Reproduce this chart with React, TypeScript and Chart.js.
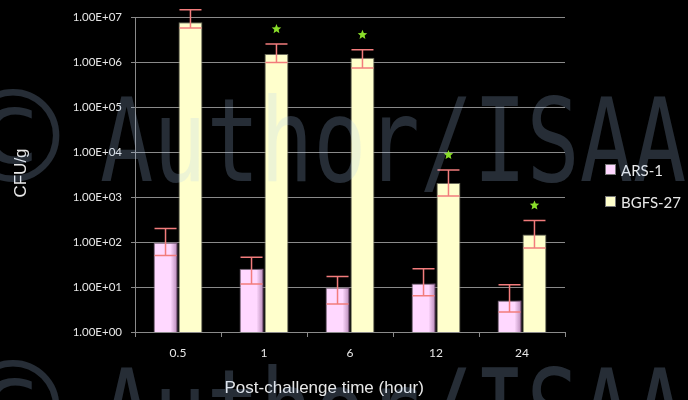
import React, { useEffect, useRef } from "react";
import { Chart, registerables } from "chart.js";

Chart.register(...registerables);

// Post-challenge time points (hours)
const categories = ["0.5", "1", "6", "12", "24"];

// ARS-1 counts (CFU/g) with error bar ends
const ars1Values = [98, 25.5, 9.8, 12, 5.0];
const ars1Upper = [200, 46, 17.2, 25.5, 11.2];
const ars1Lower = [50, 11.7, 4.2, 6.4, 2.8];

// BGFS-27 counts (CFU/g) with error bar ends
const bgfsValues = [7.6e6, 1.5e6, 1.25e6, 2.05e3, 146];
const bgfsUpper = [1.45e7, 2.5e6, 1.86e6, 4.0e3, 302];
const bgfsLower = [5.7e6, 9.8e5, 7.4e5, 1.05e3, 73.6];
const bgfsSignificant = [false, true, true, true, true];

// Decade ticks on the log axis
const yTickValues = [1, 10, 100, 1e3, 1e4, 1e5, 1e6, 1e7];

const seriesNames = ["ARS-1", "BGFS-27"];
const seriesColors = ["#ffd8ff", "#ffffcc"];

const formatSci = (v: number) => {
  const e = Math.round(Math.log10(v));
  return "1.00E+" + String(e).padStart(2, "0");
};

const TICK_FONT = "Lato, 'Noto Sans', sans-serif";
const TITLE_FONT = "'Liberation Sans', Arial, sans-serif";

function drawStar(ctx: CanvasRenderingContext2D, cx: number, cy: number, r: number) {
  ctx.beginPath();
  for (let i = 0; i < 10; i++) {
    const rad = i % 2 === 0 ? r : r * 0.45;
    const a = -Math.PI / 2 + (i * Math.PI) / 5;
    const x = cx + rad * Math.cos(a);
    const y = cy + rad * Math.sin(a);
    if (i === 0) ctx.moveTo(x, y);
    else ctx.lineTo(x, y);
  }
  ctx.closePath();
  ctx.fill();
}

const overlayPlugin = {
  id: "overlay",
  afterDatasetsDraw(chart: any) {
    const ctx = chart.ctx as CanvasRenderingContext2D;
    const yScale = chart.scales.y;
    const uppers = [ars1Upper, bgfsUpper];
    const lowers = [ars1Lower, bgfsLower];
    ctx.save();
    // soft shading on the right edge of the ARS-1 bars
    const m0 = chart.getDatasetMeta(0);
    m0.data.forEach((el: any) => {
      const p = el.getProps(["x", "y", "base", "width"], true);
      const right = p.x + p.width / 2;
      const g = ctx.createLinearGradient(right - 7, 0, right, 0);
      g.addColorStop(0, "rgba(120,70,120,0)");
      g.addColorStop(1, "rgba(120,70,120,0.55)");
      ctx.fillStyle = g;
      ctx.fillRect(right - 7, p.y, 7, p.base - p.y);
    });
    // error bars
    ctx.strokeStyle = "#f27c7c";
    ctx.lineWidth = 1.5;
    [0, 1].forEach((di) => {
      const meta = chart.getDatasetMeta(di);
      meta.data.forEach((el: any, i: number) => {
        const x = el.x;
        const yHi = yScale.getPixelForValue(uppers[di][i]);
        const yLo = yScale.getPixelForValue(lowers[di][i]);
        const cap = 11;
        ctx.beginPath();
        ctx.moveTo(x, yHi);
        ctx.lineTo(x, yLo);
        ctx.moveTo(x - cap, yHi);
        ctx.lineTo(x + cap, yHi);
        ctx.moveTo(x - cap, yLo);
        ctx.lineTo(x + cap, yLo);
        ctx.stroke();
      });
    });
    // significance markers above BGFS-27
    ctx.fillStyle = "#8ade2a";
    const m1 = chart.getDatasetMeta(1);
    m1.data.forEach((el: any, i: number) => {
      if (!bgfsSignificant[i]) return;
      const yHi = yScale.getPixelForValue(bgfsUpper[i]);
      drawStar(ctx, el.x, yHi - 15, 5);
    });
    ctx.restore();
  },
  afterDraw(chart: any) {
    const ctx = chart.ctx as CanvasRenderingContext2D;
    const area = chart.chartArea;
    ctx.save();
    ctx.fillStyle = "#e8e8e8";
    // axis titles
    ctx.font = `17px ${TITLE_FONT}`;
    ctx.textAlign = "center";
    ctx.textBaseline = "middle";
    ctx.fillText("Post-challenge time (hour)", area.left + area.width * 0.44, 388);
    ctx.save();
    ctx.translate(21, 173);
    ctx.rotate(-Math.PI / 2);
    ctx.fillText("CFU/g", 0, 0);
    ctx.restore();
    // legend
    ctx.font = `15px ${TICK_FONT}`;
    ctx.textAlign = "left";
    seriesNames.forEach((name, i) => {
      const top = 165 + i * 32;
      ctx.fillStyle = seriesColors[i];
      ctx.fillRect(606, top, 9, 9);
      ctx.strokeStyle = "#777";
      ctx.lineWidth = 1;
      ctx.strokeRect(605.5, top - 0.5, 10, 10);
      ctx.fillStyle = "#e8e8e8";
      ctx.fillText(name, 621, top + 6);
    });
    // watermark
    ctx.fillStyle = "rgba(172,205,245,0.22)";
    ctx.textBaseline = "alphabetic";
    [181, 452].forEach((base) => {
      ctx.textAlign = "center";
      ctx.font = "128px 'DejaVu Sans', sans-serif";
      ctx.fillText("\u00A9", 13, base + 1);
      ctx.textAlign = "left";
      ctx.font = "115px 'DejaVu Sans Mono', monospace";
      ctx.save();
      ctx.translate(100, base);
      ctx.scale(0.77, 1);
      ctx.fillText("Author/ISAAA", 0, 0);
      ctx.restore();
    });
    ctx.restore();
  },
};

export default function App() {
  const canvasRef = useRef<HTMLCanvasElement | null>(null);

  useEffect(() => {
    document.body.style.margin = "0";
    document.body.style.background = "#000";
    const canvas = canvasRef.current;
    if (!canvas) return;
    const chart = new Chart(canvas, {
      type: "bar",
      data: {
        labels: categories,
        datasets: [
          {
            label: seriesNames[0],
            data: ars1Values,
            backgroundColor: seriesColors[0],
            borderColor: "#6e5e6e",
            borderWidth: 1,
            categoryPercentage: 0.58,
            barPercentage: 0.96,
          },
          {
            label: seriesNames[1],
            data: bgfsValues,
            backgroundColor: seriesColors[1],
            borderColor: "#6a6a5a",
            borderWidth: 1,
            categoryPercentage: 0.58,
            barPercentage: 0.96,
          },
        ],
      },
      options: {
        responsive: false,
        animation: false,
        layout: { padding: { top: 17, right: 123, left: 0, bottom: 0 } },
        plugins: {
          legend: { display: false },
          tooltip: { enabled: false },
        },
        scales: {
          x: {
            grid: {
              display: true,
              drawOnChartArea: false,
              drawTicks: true,
              tickLength: 5,
              color: "#8a8a8a",
              offset: true,
            },
            border: { color: "#8a8a8a", width: 1 },
            ticks: {
              color: "#e6e6e6",
              font: { family: TICK_FONT, size: 12 },
              padding: 9,
            },
            afterFit: (scale: any) => {
              scale.height = 68;
            },
          },
          y: {
            type: "logarithmic",
            min: 1,
            max: 1e7,
            grid: { color: "#8a8a8a", lineWidth: 1, tickLength: 4 },
            border: { color: "#8a8a8a", width: 1 },
            ticks: {
              color: "#e6e6e6",
              font: { family: TICK_FONT, size: 11.5 },
              padding: 9,
              autoSkip: false,
              callback: (v: any) => formatSci(Number(v)),
            },
            afterBuildTicks: (scale: any) => {
              scale.ticks = yTickValues.map((v) => ({ value: v, major: true }));
            },
            afterFit: (scale: any) => {
              scale.width = 135;
            },
          },
        },
      },
      plugins: [overlayPlugin],
    } as any);
    return () => chart.destroy();
  }, []);

  return (
    <div style={{ position: "absolute", left: 0, top: 0, width: 688, height: 400, background: "#000" }}>
      <canvas ref={canvasRef} width={688} height={400} style={{ display: "block" }} />
    </div>
  );
}
